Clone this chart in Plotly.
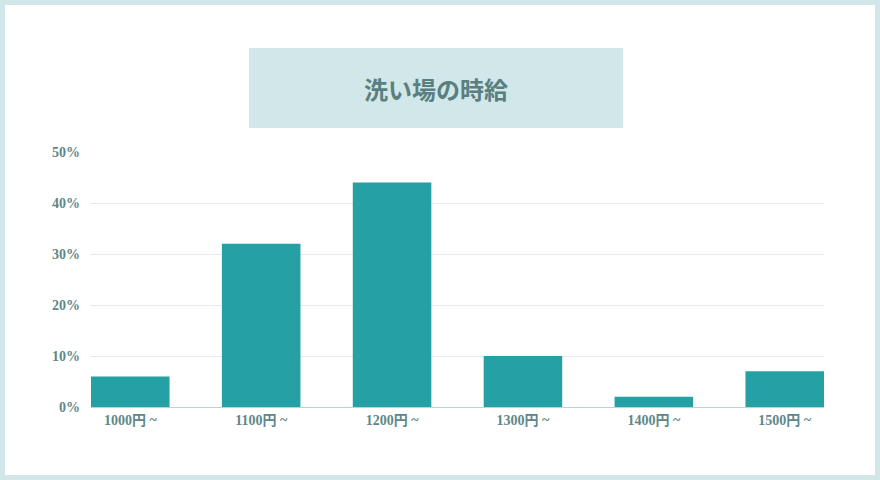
import plotly.graph_objects as go

categories = ["1000円 ~", "1100円 ~", "1200円 ~", "1300円 ~", "1400円 ~", "1500円 ~"]
values = [6, 32, 44, 10, 2, 7]
y_ticks = [0, 10, 20, 30, 40, 50]
y_tick_labels = ["0%", "10%", "20%", "30%", "40%", "50%"]
title_text = "洗い場の時給"

W, H = 880, 480
L, R, T, B = 91, 56, 152, 73
pw, ph = W - L - R, H - T - B

def px(x):
    return (x - L) / pw

def py(y):
    return (H - B - y) / ph

fig = go.Figure(go.Bar(
    x=categories, y=values,
    marker=dict(color="#25a0a4", line=dict(width=0)),
    width=0.6,
    hoverinfo="skip",
))

tick_font = dict(family="Liberation Serif, Noto Sans CJK JP, serif", size=14, color="#5e8888", weight="bold")

fig.update_layout(
    width=W, height=H,
    margin=dict(l=L, r=R, t=T, b=B, pad=0),
    paper_bgcolor="#d1e7e9",
    plot_bgcolor="rgba(0,0,0,0)",
    showlegend=False,
    xaxis=dict(
        range=[-0.3, len(categories) - 0.7],
        showgrid=False, showline=True, linecolor="#b5d6d8", linewidth=1,
        tickfont=tick_font, ticks="", fixedrange=True,
    ),
    yaxis=dict(
        range=[0, 50], tickvals=y_ticks, ticktext=y_tick_labels,
        showgrid=True, gridcolor="#e5ebeb", gridwidth=1,
        zeroline=False, showline=False, ticks="", ticklabelstandoff=10,
        tickfont=tick_font, fixedrange=True,
    ),
    shapes=[
        dict(type="rect", xref="paper", yref="paper", layer="below",
             x0=px(5), x1=px(875), y0=py(475), y1=py(5),
             fillcolor="white", line=dict(width=0)),
        dict(type="rect", xref="paper", yref="paper", layer="below",
             x0=px(249), x1=px(623), y0=py(128), y1=py(48),
             fillcolor="#d1e7e9", line=dict(width=0)),
    ],
    annotations=[
        dict(text=title_text, xref="paper", yref="paper",
             x=px(436), y=py(88), showarrow=False,
             xanchor="center", yanchor="middle",
             font=dict(family="Noto Sans CJK JP", size=24, color="#5a7f80", weight="bold")),
    ],
)

fig.write_html("out.html", config={"displayModeBar": False},
               post_script="document.body.style.margin='0';document.body.style.padding='0';")
